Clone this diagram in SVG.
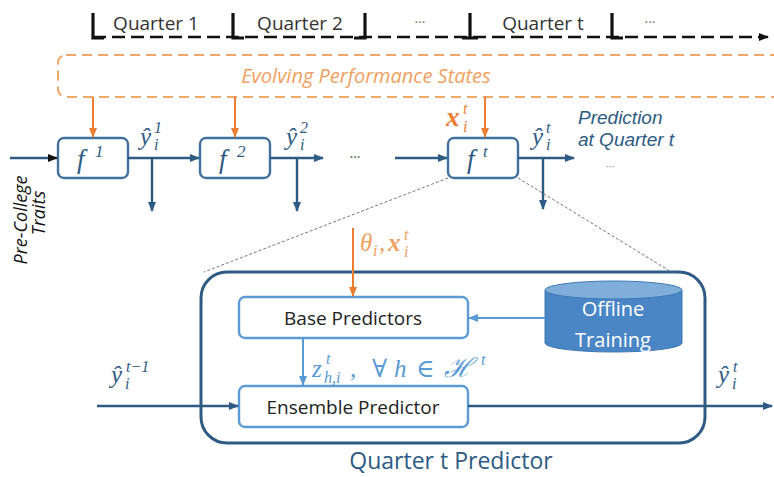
<svg xmlns="http://www.w3.org/2000/svg" width="774" height="477" viewBox="0 0 774 477">
<defs>
<style>
.sans{font-family:"Open Sans","Liberation Sans",sans-serif}
.lib{font-family:"Liberation Sans","Open Sans",sans-serif}
.math{font-family:"Liberation Serif","DejaVu Serif",serif;font-style:italic}
.fbox{fill:#fff;stroke:#41719C;stroke-width:2.4}
.ibox{fill:#fff;stroke:#5B9BD5;stroke-width:2.4}
.dk{stroke:#2E5B84;stroke-width:2.4;fill:none}
.lt{stroke:#5B9BD5;stroke-width:2;fill:none}
.or{stroke:#ED7D31;stroke-width:2;fill:none}
.dot{stroke:#777;stroke-width:1;stroke-dasharray:3 2;fill:none}
.b{fill:#2E5B84}
.o{fill:#ED7D31}
.l{fill:#5B9BD5}
</style>
<marker id="ad" markerWidth="10" markerHeight="8" refX="9" refY="4" orient="auto" markerUnits="userSpaceOnUse"><path d="M0,0 L10,4 L0,8 z" fill="#2E5B84"/></marker>
<marker id="al" markerWidth="10" markerHeight="8" refX="9" refY="4" orient="auto" markerUnits="userSpaceOnUse"><path d="M0,0 L10,4 L0,8 z" fill="#5B9BD5"/></marker>
<marker id="ao" markerWidth="10" markerHeight="8" refX="9" refY="4" orient="auto" markerUnits="userSpaceOnUse"><path d="M0,0 L10,4 L0,8 z" fill="#ED7D31"/></marker>
<marker id="ak" markerWidth="10" markerHeight="8" refX="9" refY="4" orient="auto" markerUnits="userSpaceOnUse"><path d="M0,0 L10,4 L0,8 z" fill="#111"/></marker>
</defs>
<rect width="774" height="477" fill="#fff"/>

<g id="timeline">
<line x1="93" y1="37" x2="768" y2="37" stroke="#111" stroke-width="2.6" stroke-dasharray="13 6" marker-end="url(#ak)"/>
<path d="M93,13 V38 H104 M233,13 V38 H244 M365,13 V38 H354 M470,13 V38 M462,38 H478 M612,13 V38 H623" stroke="#111" stroke-width="3.2" fill="none"/>
<text class="sans" x="156" y="30" font-size="19" text-anchor="middle" fill="#333">Quarter 1</text>
<text class="sans" x="300" y="30" font-size="19" text-anchor="middle" fill="#333">Quarter 2</text>
<text class="sans" x="420" y="27" font-size="14" text-anchor="middle" fill="#777">···</text>
<text class="sans" x="543" y="30" font-size="19" text-anchor="middle" fill="#333">Quarter t</text>
<text class="sans" x="650" y="27" font-size="14" text-anchor="middle" fill="#777">···</text>
</g>

<g id="states">
<rect x="58" y="55" width="740" height="42" rx="8" fill="none" stroke="#F0A868" stroke-width="2" stroke-dasharray="10 6"/>
<text class="sans" x="366" y="83" font-size="20" font-style="italic" text-anchor="middle" fill="#F0A060">Evolving Performance States</text>
</g>

<g id="f1">
<rect class="fbox" x="58" y="138" width="70" height="40" rx="6"/>
<text class="math b" x="77" y="168" font-size="27">f</text>
<text class="math b" x="95" y="157" font-size="17" font-style="normal">1</text>
</g>
<g id="f2">
<rect class="fbox" x="200" y="138" width="70" height="40" rx="6"/>
<text class="math b" x="219" y="168" font-size="27">f</text>
<text class="math b" x="237" y="157" font-size="17" font-style="normal">2</text>
</g>
<g id="ft">
<rect class="fbox" x="448" y="138" width="70" height="40" rx="6"/>
<text class="math b" x="467" y="168" font-size="27">f</text>
<text class="math b" x="483" y="157" font-size="17">t</text>
</g>

<g id="pre-college">
<text class="sans" transform="translate(27,220) rotate(-90)" font-size="18" font-style="italic" text-anchor="middle" fill="#111">Pre-College</text>
<text class="sans" transform="translate(45,213) rotate(-90)" font-size="18" font-style="italic" text-anchor="middle" fill="#111">Traits</text>
</g>

<g id="predictor">
<rect x="201" y="272" width="504" height="171" rx="26" fill="none" stroke="#2E5B84" stroke-width="3"/>
<text class="sans" x="451" y="469" font-size="23" text-anchor="middle" fill="#2E5B84">Quarter t Predictor</text>
</g>
<g id="base">
<rect class="ibox" x="239" y="297" width="229" height="41" rx="6"/>
<text class="sans" x="353" y="325" font-size="19" text-anchor="middle" fill="#222">Base Predictors</text>
</g>
<g id="ensemble">
<rect class="ibox" x="239" y="386" width="229" height="41" rx="6"/>
<text class="sans" x="353" y="414" font-size="19" text-anchor="middle" fill="#222">Ensemble Predictor</text>
</g>
<g id="offline">
<path d="M545,290 V343 A68.5,9 0 0 0 682,343 V290 Z" fill="#4A86C5" stroke="#3E78B4" stroke-width="1"/>
<ellipse cx="613.5" cy="290" rx="68.5" ry="9" fill="#7FAEDB" stroke="#3E78B4" stroke-width="1"/>
<text class="sans" x="613" y="316" font-size="20" text-anchor="middle" fill="#fff">Offline</text>
<text class="sans" x="613" y="347" font-size="20" text-anchor="middle" fill="#fff">Training</text>
</g>

<g id="connectors">
<line class="dk" x1="10" y1="158" x2="57" y2="158" stroke="#111" marker-end="url(#ak)"/>
<line class="dk" x1="128" y1="158" x2="199" y2="158" marker-end="url(#ad)"/>
<line class="dk" x1="270" y1="158" x2="323" y2="158" marker-end="url(#ad)"/>
<line class="dk" x1="395" y1="158" x2="447" y2="158" marker-end="url(#ad)"/>
<line class="dk" x1="518" y1="158" x2="574" y2="158" marker-end="url(#ad)"/>
<line class="dk" x1="152" y1="158" x2="152" y2="211" marker-end="url(#ad)"/>
<line class="dk" x1="297" y1="158" x2="297" y2="211" marker-end="url(#ad)"/>
<line class="dk" x1="543" y1="158" x2="543" y2="209" marker-end="url(#ad)"/>
<line class="or" x1="93" y1="97" x2="93" y2="137" marker-end="url(#ao)"/>
<line class="or" x1="235" y1="97" x2="235" y2="137" marker-end="url(#ao)"/>
<line class="or" x1="485" y1="97" x2="485" y2="137" marker-end="url(#ao)"/>
<line class="or" x1="353" y1="228" x2="353" y2="296" marker-end="url(#ao)"/>
<line class="dot" x1="448" y1="178" x2="204" y2="272"/>
<line class="dot" x1="518" y1="178" x2="673" y2="273"/>
<line class="lt" x1="303" y1="338" x2="303" y2="385" marker-end="url(#al)"/>
<line class="lt" x1="545" y1="318" x2="469" y2="318" marker-end="url(#al)"/>
<line class="dk" x1="97" y1="406" x2="238" y2="406" marker-end="url(#ad)"/>
<line class="dk" x1="468" y1="406" x2="772" y2="406" marker-end="url(#ad)"/>
<text class="sans" x="355" y="162" font-size="14" text-anchor="middle" fill="#555">···</text>
<text class="sans" x="610" y="170" font-size="11" text-anchor="middle" fill="#999">···</text>
</g>

<g id="labels">
<text class="math b" x="140" y="145" font-size="25">ŷ</text>
<text class="math b" x="154" y="150" font-size="16">i</text>
<text class="math b" x="154" y="133" font-size="16" font-style="normal">1</text>

<text class="math b" x="286" y="145" font-size="25">ŷ</text>
<text class="math b" x="300" y="150" font-size="16">i</text>
<text class="math b" x="300" y="133" font-size="16" font-style="normal">2</text>

<text class="math b" x="532" y="145" font-size="25">ŷ</text>
<text class="math b" x="546" y="150" font-size="16">i</text>
<text class="math b" x="546" y="133" font-size="16">t</text>

<text class="math o" x="446" y="126" font-size="27" font-weight="bold">x</text>
<text class="math o" x="463" y="132" font-size="16">i</text>
<text class="math o" x="463" y="114" font-size="16">t</text>

<text class="lib" x="578" y="124" font-size="19" font-style="italic" fill="#2E5B84">Prediction</text>
<text class="lib" x="578" y="146" font-size="19" font-style="italic" fill="#2E5B84">at Quarter t</text>

<text class="math" x="360" y="251" font-size="25" fill="#F0A060">θ</text>
<text class="math" x="373" y="256" font-size="16" fill="#F0A060">i</text>
<text class="math" x="379" y="251" font-size="25" fill="#F0A060">,</text>
<text class="math" x="388" y="251" font-size="25" font-weight="bold" fill="#F0A060">x</text>
<text class="math" x="404" y="257" font-size="16" fill="#F0A060">i</text>
<text class="math" x="404" y="240" font-size="16" fill="#F0A060">t</text>

<text class="math l" x="312" y="377" font-size="25">z</text>
<text class="math l" x="324" y="383" font-size="16">h,i</text>
<text class="math l" x="326" y="364" font-size="16">t</text>
<text class="math l" x="350" y="377" font-size="25">,</text>
<text class="math l" x="372" y="377" font-size="25" font-style="normal">∀</text>
<text class="math l" x="394" y="377" font-size="25">h</text>
<text class="math l" x="416" y="377" font-size="25" font-style="normal">∈</text>
<text class="math l" x="444" y="377" font-size="27">ℋ</text>
<text class="math l" x="481" y="365" font-size="16">t</text>

<text class="math b" x="111" y="383" font-size="25">ŷ</text>
<text class="math b" x="125" y="389" font-size="16">i</text>
<text class="math b" x="126" y="372" font-size="16">t−1</text>

<text class="math b" x="718" y="383" font-size="25">ŷ</text>
<text class="math b" x="732" y="389" font-size="16">i</text>
<text class="math b" x="733" y="372" font-size="16">t</text>
</g>
</svg>
